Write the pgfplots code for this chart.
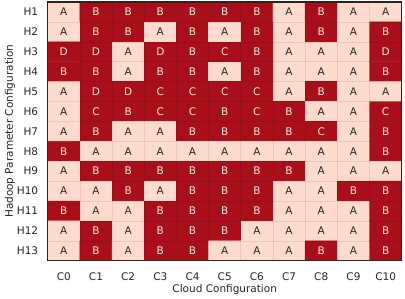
\documentclass[border=0pt]{standalone}
\usepackage{pgfplots}
\pgfplotsset{compat=1.18}
\usepackage{pgfplotstable}
\usepackage{fontspec}
\setmainfont{DejaVu Sans}
\definecolor{lightc}{HTML}{FEDBCC}
\definecolor{darkc}{HTML}{A80F18}
\definecolor{txtdark}{HTML}{262626}
\definecolor{txtlight}{HTML}{F5E6E6}
\newcommand\cellA{\textcolor{txtdark}{A}}
\newcommand\cellB{\textcolor{txtlight}{B}}
\newcommand\cellC{\textcolor{txtlight}{C}}
\newcommand\cellD{\textcolor{txtlight}{D}}
\pgfplotstableread{
x y v lab
0 0 0 A
1 0 1 B
2 0 1 B
3 0 1 B
4 0 1 B
5 0 1 B
6 0 1 B
7 0 0 A
8 0 1 B
9 0 0 A
10 0 0 A
0 1 0 A
1 1 1 B
2 1 1 B
3 1 0 A
4 1 1 B
5 1 0 A
6 1 1 B
7 1 0 A
8 1 1 B
9 1 0 A
10 1 1 B
0 2 1 D
1 2 1 D
2 2 0 A
3 2 1 D
4 2 1 B
5 2 1 C
6 2 1 B
7 2 0 A
8 2 0 A
9 2 0 A
10 2 1 D
0 3 1 B
1 3 1 B
2 3 0 A
3 3 1 B
4 3 1 B
5 3 0 A
6 3 1 B
7 3 0 A
8 3 0 A
9 3 0 A
10 3 1 B
0 4 0 A
1 4 1 D
2 4 1 D
3 4 1 C
4 4 1 C
5 4 1 C
6 4 1 C
7 4 0 A
8 4 1 B
9 4 0 A
10 4 0 A
0 5 0 A
1 5 1 C
2 5 1 B
3 5 1 C
4 5 1 C
5 5 1 B
6 5 1 C
7 5 1 B
8 5 0 A
9 5 0 A
10 5 1 C
0 6 0 A
1 6 1 B
2 6 0 A
3 6 0 A
4 6 1 B
5 6 1 B
6 6 1 B
7 6 1 B
8 6 1 C
9 6 0 A
10 6 1 B
0 7 1 B
1 7 0 A
2 7 0 A
3 7 0 A
4 7 0 A
5 7 0 A
6 7 0 A
7 7 0 A
8 7 0 A
9 7 0 A
10 7 1 B
0 8 0 A
1 8 1 B
2 8 1 B
3 8 1 B
4 8 1 B
5 8 1 B
6 8 1 B
7 8 1 B
8 8 0 A
9 8 0 A
10 8 0 A
0 9 0 A
1 9 0 A
2 9 1 B
3 9 0 A
4 9 1 B
5 9 1 B
6 9 1 B
7 9 0 A
8 9 0 A
9 9 1 B
10 9 1 B
0 10 1 B
1 10 0 A
2 10 0 A
3 10 1 B
4 10 1 B
5 10 1 B
6 10 1 B
7 10 0 A
8 10 0 A
9 10 0 A
10 10 1 B
0 11 0 A
1 11 1 B
2 11 0 A
3 11 1 B
4 11 1 B
5 11 1 B
6 11 0 A
7 11 0 A
8 11 0 A
9 11 0 A
10 11 1 B
0 12 0 A
1 12 1 B
2 12 0 A
3 12 1 B
4 12 1 B
5 12 0 A
6 12 0 A
7 12 0 A
8 12 1 B
9 12 0 A
10 12 1 B
}\cells
\begin{document}
\begin{tikzpicture}
\begin{axis}[
  scale only axis,
  width=354bp, height=258.7bp,
  xmin=-0.5, xmax=10.5, ymin=-0.5, ymax=12.5,
  y dir=reverse,
  font=\fontsize{10.5bp}{12bp}\selectfont,
  xtick={0,...,10},
  xticklabels={C0,C1,C2,C3,C4,C5,C6,C7,C8,C9,C10},
  ytick={0,...,12},
  yticklabels={H1,H2,H3,H4,H5,H6,H7,H8,H9,H10,H11,H12,H13},
  minor xtick={-0.5,0.5,...,10.5},
  minor ytick={-0.5,0.5,...,12.5},
  major tick length=0pt, minor tick length=0pt,
  xminorgrids, yminorgrids,
  minor grid style={black, opacity=0.08, line width=0.6bp},
  axis on top,
  axis line style={line width=1.1bp, black!85},
  xticklabel style={yshift=-8.5bp, text=black!85},
  yticklabel style={xshift=-6bp, text=black!85},
  xlabel={Cloud Configuration},
  ylabel={Hadoop Parameter Configuration},
  xlabel style={yshift=3bp, text=black!85},
  ylabel style={yshift=-5bp, text=black!85},
  colormap={cells}{color(0)=(lightc) color(1)=(darkc)},
  point meta min=0, point meta max=1,
]
\addplot[matrix plot*, mesh/cols=11, point meta=\thisrow{v}] table[x=x, y=y] {\cells};
\addplot[only marks, mark=none,
  point meta=explicit symbolic,
  nodes near coords={\csname cell\pgfplotspointmeta\endcsname},
  every node near coord/.style={anchor=center, inner sep=0pt, font=\fontsize{10.5bp}{12bp}\selectfont},
] table[x=x, y=y, meta=lab] {\cells};
\end{axis}
\pgfresetboundingbox
\useasboundingbox (-47.7bp,-38.3bp) rectangle (357.3bp,260.7bp);
\end{tikzpicture}
\end{document}
